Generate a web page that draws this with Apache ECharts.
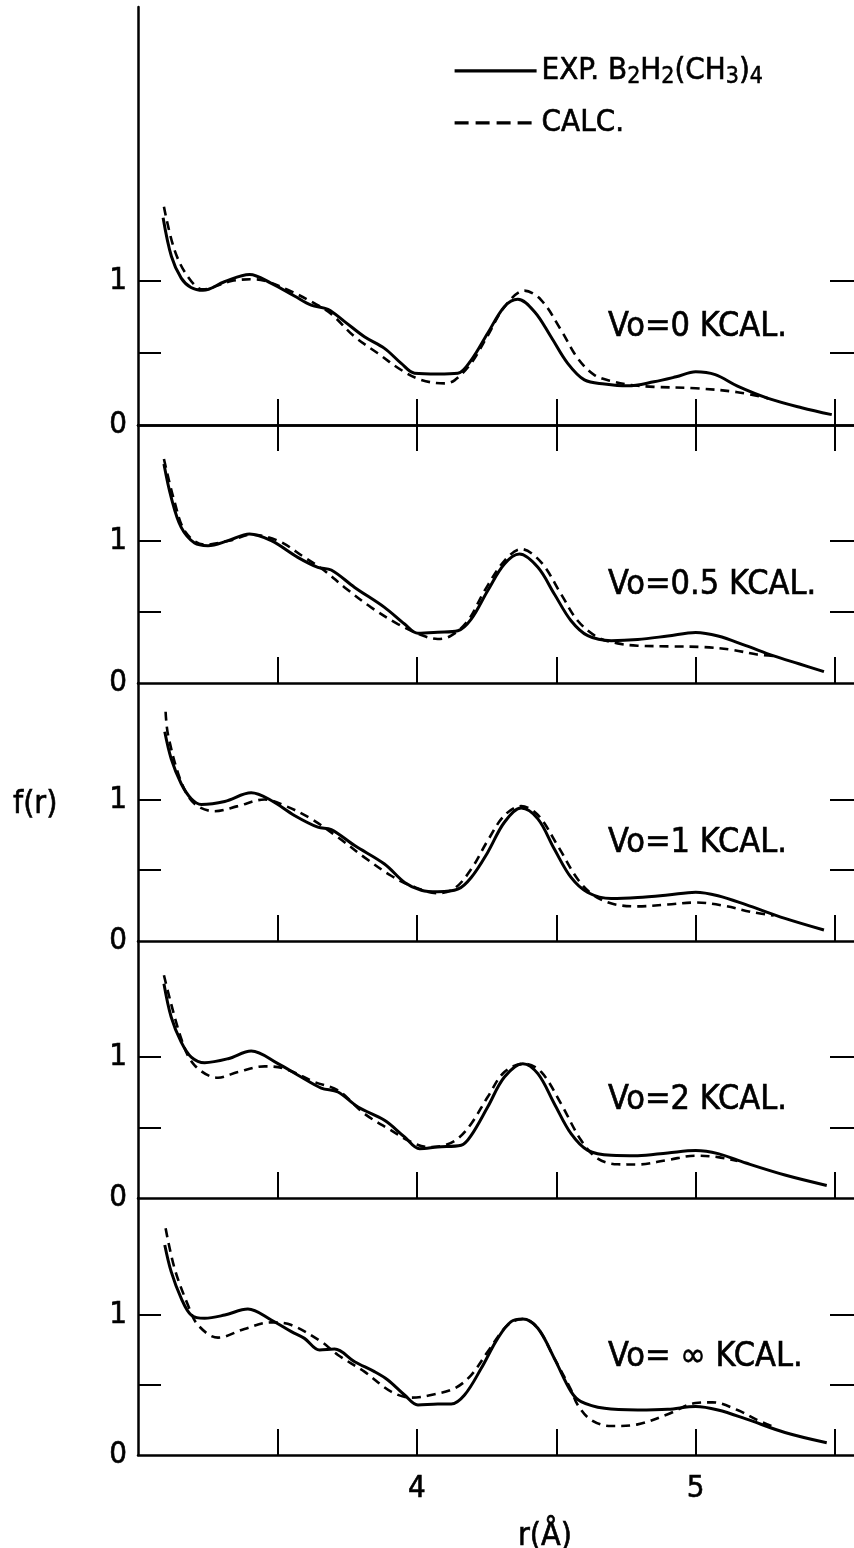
<!DOCTYPE html>
<html>
<head>
<meta charset="utf-8">
<script src="https://cdn.jsdelivr.net/npm/echarts@6/dist/echarts.min.js"></script>
<style>
  html, body { margin: 0; padding: 0; background: #ffffff; }
  #chart { width: 854px; height: 1548px; }
</style>
</head>
<body>
<div id="chart"></div>
<script>
// Radial distribution f(r) of B2H2(CH3)4: experiment vs. calculation
// for five barrier heights Vo. Each pair is [r (Å), f(r)].

const expV0 = [[3.09,1.44],[3.12,1.17],[3.155,1.02],[3.19,0.955],[3.233,0.935],[3.31,0.995],[3.40,1.046],[3.478,0.984],[3.561,0.896],[3.621,0.833],[3.681,0.803],[3.741,0.718],[3.812,0.613],[3.884,0.532],[3.944,0.428],[3.992,0.36],[4.075,0.355],[4.147,0.36],[4.195,0.451],[4.254,0.637],[4.314,0.822],[4.362,0.873],[4.422,0.787],[4.481,0.613],[4.541,0.428],[4.601,0.313],[4.673,0.285],[4.756,0.272],[4.85,0.30],[4.93,0.335],[5.0,0.37],[5.07,0.35],[5.15,0.27],[5.26,0.185],[5.38,0.12],[5.488,0.072]];
const calcV0 = [[3.093,1.516],[3.131,1.215],[3.179,1.03],[3.233,0.942],[3.335,1.0],[3.418,1.012],[3.454,1.002],[3.538,0.938],[3.633,0.845],[3.693,0.771],[3.777,0.613],[3.86,0.498],[3.944,0.382],[4.016,0.313],[4.099,0.289],[4.135,0.31],[4.195,0.43],[4.254,0.62],[4.314,0.82],[4.386,0.933],[4.446,0.868],[4.517,0.66],[4.577,0.463],[4.637,0.347],[4.708,0.30],[4.768,0.278],[4.85,0.265],[5.0,0.255],[5.15,0.228],[5.26,0.185]];

const expV05 = [[3.093,1.537],[3.119,1.303],[3.155,1.092],[3.203,0.982],[3.251,0.964],[3.323,0.999],[3.40,1.046],[3.478,0.999],[3.573,0.882],[3.645,0.812],[3.693,0.793],[3.777,0.671],[3.884,0.531],[3.956,0.414],[4.004,0.349],[4.075,0.356],[4.147,0.367],[4.195,0.449],[4.254,0.648],[4.314,0.835],[4.368,0.905],[4.434,0.812],[4.493,0.625],[4.553,0.437],[4.613,0.332],[4.697,0.297],[4.792,0.305],[4.9,0.33],[5.0,0.355],[5.08,0.33],[5.18,0.262],[5.28,0.19],[5.37,0.135],[5.46,0.08]];
const calcV05 = [[3.093,1.572],[3.13,1.28],[3.17,1.06],[3.239,0.971],[3.33,1.0],[3.406,1.041],[3.502,0.999],[3.597,0.882],[3.669,0.788],[3.741,0.671],[3.836,0.531],[3.932,0.414],[4.016,0.337],[4.075,0.309],[4.123,0.332],[4.183,0.437],[4.243,0.648],[4.314,0.858],[4.374,0.94],[4.446,0.847],[4.517,0.625],[4.577,0.437],[4.649,0.32],[4.72,0.278],[4.792,0.262],[4.91,0.257],[5.03,0.252],[5.13,0.233],[5.22,0.2],[5.28,0.19]];

const expV1 = [[3.096,1.478],[3.119,1.288],[3.155,1.111],[3.191,1.005],[3.227,0.965],[3.311,0.986],[3.406,1.047],[3.478,0.993],[3.561,0.887],[3.645,0.804],[3.693,0.787],[3.777,0.674],[3.884,0.544],[3.956,0.414],[4.016,0.359],[4.075,0.348],[4.147,0.366],[4.195,0.449],[4.254,0.626],[4.314,0.839],[4.374,0.939],[4.434,0.863],[4.493,0.65],[4.553,0.449],[4.613,0.343],[4.697,0.30],[4.792,0.307],[4.9,0.325],[5.0,0.345],[5.08,0.32],[5.18,0.257],[5.32,0.16],[5.46,0.078]];
const calcV1 = [[3.099,1.62],[3.108,1.454],[3.155,1.123],[3.203,0.969],[3.275,0.917],[3.358,0.953],[3.454,1.0],[3.526,0.957],[3.621,0.863],[3.717,0.733],[3.812,0.591],[3.908,0.461],[3.98,0.39],[4.075,0.338],[4.135,0.371],[4.195,0.508],[4.254,0.709],[4.314,0.887],[4.374,0.953],[4.434,0.891],[4.505,0.674],[4.577,0.437],[4.637,0.319],[4.708,0.26],[4.792,0.245],[4.9,0.258],[5.0,0.272],[5.1,0.25],[5.2,0.205],[5.28,0.18]];

const expV2 = [[3.093,1.52],[3.119,1.284],[3.155,1.106],[3.191,1.0],[3.239,0.96],[3.323,0.988],[3.406,1.043],[3.502,0.953],[3.585,0.858],[3.657,0.78],[3.717,0.752],[3.789,0.645],[3.884,0.551],[3.956,0.433],[4.01,0.35],[4.075,0.362],[4.159,0.374],[4.195,0.444],[4.254,0.645],[4.314,0.858],[4.38,0.953],[4.434,0.882],[4.493,0.669],[4.553,0.456],[4.613,0.338],[4.697,0.303],[4.792,0.30],[4.9,0.32],[5.0,0.337],[5.08,0.315],[5.18,0.248],[5.32,0.163],[5.47,0.089]];
const calcV2 = [[3.093,1.58],[3.155,1.13],[3.203,0.941],[3.287,0.853],[3.358,0.894],[3.454,0.934],[3.526,0.917],[3.633,0.823],[3.717,0.764],[3.812,0.598],[3.908,0.48],[3.98,0.397],[4.039,0.362],[4.099,0.374],[4.147,0.421],[4.195,0.527],[4.254,0.716],[4.314,0.894],[4.386,0.953],[4.446,0.894],[4.517,0.669],[4.589,0.409],[4.649,0.279],[4.72,0.239],[4.792,0.238],[4.9,0.27],[5.0,0.30],[5.08,0.29],[5.15,0.262]];

const expVinf = [[3.096,1.495],[3.119,1.305],[3.155,1.115],[3.191,0.996],[3.239,0.973],[3.311,0.996],[3.394,1.039],[3.478,0.961],[3.55,0.878],[3.597,0.83],[3.651,0.747],[3.705,0.754],[3.777,0.664],[3.848,0.593],[3.896,0.534],[3.956,0.427],[4.004,0.356],[4.075,0.363],[4.123,0.363],[4.171,0.427],[4.231,0.617],[4.29,0.83],[4.338,0.949],[4.38,0.968],[4.434,0.902],[4.493,0.688],[4.553,0.451],[4.589,0.38],[4.673,0.332],[4.792,0.32],[4.9,0.325],[5.0,0.345],[5.08,0.32],[5.18,0.257],[5.32,0.16],[5.47,0.087]];
const calcVinf = [[3.099,1.613],[3.131,1.329],[3.179,1.068],[3.215,0.925],[3.287,0.835],[3.382,0.897],[3.478,0.944],[3.55,0.925],[3.657,0.807],[3.717,0.712],[3.812,0.593],[3.908,0.451],[3.98,0.408],[4.051,0.427],[4.135,0.474],[4.195,0.569],[4.254,0.735],[4.314,0.902],[4.35,0.955],[4.38,0.968],[4.434,0.902],[4.493,0.688],[4.553,0.463],[4.577,0.356],[4.625,0.249],[4.697,0.206],[4.792,0.218],[4.9,0.29],[5.0,0.37],[5.06,0.375],[5.15,0.32],[5.22,0.25],[5.28,0.2]];

const expSeries  = [expV0, expV05, expV1, expV2, expVinf];
const calcSeries = [calcV0, calcV05, calcV1, calcV2, calcVinf];
const panelLabels = ['Vo=0 KCAL.', 'Vo=0.5 KCAL.', 'Vo=1 KCAL.', 'Vo=2 KCAL.', 'Vo= \u221E KCAL.'];
const xTickValues = [3.5, 4, 4.5, 5, 5.5];
const xLabelValues = [4, 5];
const yTickValues = [0.5, 1];
const yLabelValues = [0, 1];
const EXP_NAME = 'EXP.';
const CALC_NAME = 'CALC.';

// Panel layout (pixels) and vertical ranges
const PANEL_TOP = [7, 425, 683, 941, 1198];
const PANEL_H = [418, 258, 258, 257, 257];
const Y_MAX = [2.903, 1.811, 1.823, 1.823, 1.829];
const GRID_LEFT = 138;
const GRID_W = 725;

const FONT = "'DejaVu Sans Condensed','Liberation Sans Narrow','DejaVu Sans',sans-serif";
const INK = '#000000';

const chart = echarts.init(document.getElementById('chart'), null, { renderer: 'canvas' });

const grids = PANEL_TOP.map((t, i) => ({
  left: GRID_LEFT, top: t, width: GRID_W, height: PANEL_H[i], outerBoundsMode: 'none'
}));

const axisLine = { show: true, lineStyle: { color: INK, width: 2.5 } };
const tickStyle = { color: INK, width: 2 };
const labelText = { color: INK, fontFamily: FONT, fontSize: 31, textBorderColor: INK, textBorderWidth: 0.6 };

const xAxes = PANEL_TOP.map((t, i) => ({
  gridIndex: i, type: 'value', min: 3, max: 5.6, position: 'bottom',
  axisLine: axisLine,
  axisTick: { show: true, inside: true, length: 26, lineStyle: tickStyle, customValues: xTickValues },
  splitLine: { show: false },
  axisLabel: i === 4
    ? Object.assign({ show: true, customValues: xLabelValues, margin: 18, formatter: v => String(v) }, labelText)
    : { show: false }
}));
// ticks hanging from the top frame
xAxes.push({
  gridIndex: 0, type: 'value', min: 3, max: 5.6, position: 'top',
  axisLine: axisLine,
  axisTick: { show: true, inside: true, length: 26, lineStyle: tickStyle, customValues: xTickValues },
  splitLine: { show: false }, axisLabel: { show: false }
});

const yLeft = PANEL_TOP.map((t, i) => ({
  gridIndex: i, type: 'value', min: 0, max: Y_MAX[i], position: 'left',
  axisLine: axisLine,
  axisTick: { show: true, inside: true, length: 23, lineStyle: tickStyle, customValues: yTickValues },
  splitLine: { show: false },
  axisLabel: Object.assign({ show: true, customValues: yLabelValues, margin: 11, formatter: v => String(v) }, labelText)
}));
const yRight = PANEL_TOP.map((t, i) => ({
  gridIndex: i, type: 'value', min: 0, max: Y_MAX[i], position: 'right',
  axisLine: axisLine,
  axisTick: { show: true, inside: true, length: 33, lineStyle: tickStyle, customValues: yTickValues },
  splitLine: { show: false }, axisLabel: { show: false }
}));

const series = [];
expSeries.forEach((d, i) => {
  series.push({
    name: EXP_NAME, type: 'line', xAxisIndex: i, yAxisIndex: i, data: d,
    symbol: 'none', smooth: 0.35, z: 3,
    lineStyle: { color: INK, width: 3, type: 'solid' },
    itemStyle: { color: INK }
  });
  series.push({
    name: CALC_NAME, type: 'line', xAxisIndex: i, yAxisIndex: i, data: calcSeries[i],
    symbol: 'none', smooth: 0.35, z: 2,
    lineStyle: { color: INK, width: 2.6, type: [9, 6] },
    itemStyle: { color: INK }
  });
});

const textStroke = { stroke: INK, lineWidth: 0.6 };

const option = {
  backgroundColor: '#ffffff',
  animation: false,
  grid: grids,
  xAxis: xAxes,
  yAxis: yLeft.concat(yRight),
  legend: {
    show: true, orient: 'vertical', left: 453, top: 55, padding: 0,
    itemWidth: 82, itemHeight: 6, itemGap: 18,
    itemStyle: { opacity: 0 },
    data: [
      { name: EXP_NAME, lineStyle: { color: INK, width: 3.2, type: 'solid' } },
      { name: CALC_NAME, lineStyle: { color: INK, width: 3.2, type: [14, 7] } }
    ],
    selectedMode: false,
    formatter: name => name === EXP_NAME
      ? '{t|EXP. B}{s|2}{t|H}{s|2}{t|(CH}{s|3}{t|)}{s|4}'
      : '{t|CALC.}',
    textStyle: {
      color: INK, fontFamily: FONT, fontSize: 31,
      rich: {
        t: { fontSize: 31, lineHeight: 36, fontFamily: FONT, color: INK, textBorderColor: INK, textBorderWidth: 0.6, padding: [0, 0, 0, 0] },
        s: { fontSize: 23, lineHeight: 16, verticalAlign: 'bottom', fontFamily: FONT, color: INK, textBorderColor: INK, textBorderWidth: 0.5 }
      }
    }
  },
  graphic: panelLabels.map((txt, i) => ({
    type: 'text', x: 608, y: PANEL_TOP[i] + PANEL_H[i] - 98, silent: true,
    style: Object.assign({ text: txt, fill: INK, fontSize: 34, fontFamily: FONT, align: 'left', verticalAlign: 'middle' }, textStroke)
  })).concat([
    { type: 'text', x: 13, y: 805, silent: true,
      style: Object.assign({ text: 'f(r)', fill: INK, fontSize: 32, fontFamily: FONT, align: 'left', verticalAlign: 'middle' }, textStroke) },
    { type: 'text', x: 545, y: 1537, silent: true,
      style: Object.assign({ text: 'r(\u00C5)', fill: INK, fontSize: 32, fontFamily: FONT, align: 'center', verticalAlign: 'middle' }, textStroke) }
  ]),
  series: series
};

chart.setOption(option);
</script>
</body>
</html>
